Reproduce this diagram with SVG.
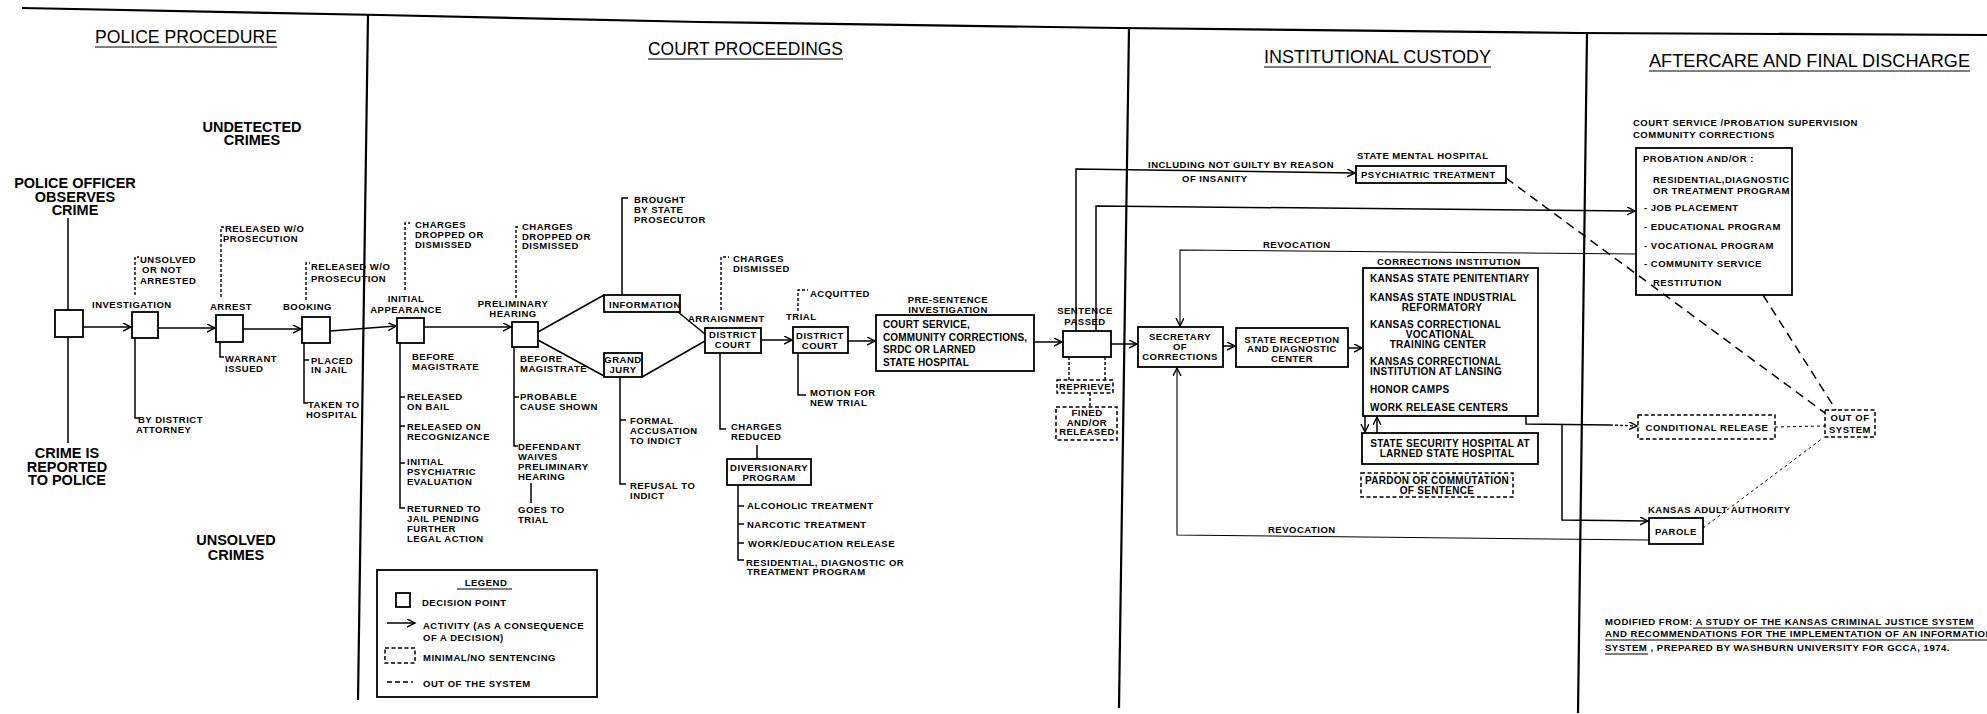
<svg xmlns="http://www.w3.org/2000/svg" width="1987" height="714" viewBox="0 0 1987 714">
<defs>
<marker id="ah" markerWidth="10" markerHeight="10" refX="8" refY="4" orient="auto" markerUnits="userSpaceOnUse"><path d="M0,0 L8,4 L0,8" fill="none" stroke="#000" stroke-width="1.4"/></marker>
<style>
text{font-family:"Liberation Sans",Arial,Helvetica,sans-serif;fill:#000}
.h{font-size:18.5px}
.m{font-size:14.5px;font-weight:bold}
.s{font-size:9.5px;font-weight:bold;letter-spacing:0.5px}
.p{font-size:10px;font-weight:bold;letter-spacing:0.15px}
.k{font-size:10px;font-weight:bold;letter-spacing:0.3px}
.c{text-anchor:middle}
.box{fill:none;stroke:#000;stroke-width:1.8}
.dbox{fill:none;stroke:#000;stroke-width:1.5;stroke-dasharray:4 2.5}
.ln{fill:none;stroke:#000;stroke-width:1.5}
.thin{fill:none;stroke:#000;stroke-width:1.1}
.dl{fill:none;stroke:#000;stroke-width:1.4;stroke-dasharray:3 2}
.out{fill:none;stroke:#000;stroke-width:1.5;stroke-dasharray:9 6}
.dot{fill:none;stroke:#000;stroke-width:1;stroke-dasharray:3 3}
.frame{fill:none;stroke:#000;stroke-width:2.2}
.ul{stroke:#000;stroke-width:1.2}
.arr{marker-end:url(#ah)}
</style>
</defs>
<rect width="1987" height="714" fill="#fff"/>

<g id="frame">
<polyline class="frame" points="22,8 380,15 700,22 1120,28 1580,33 1987,35"/>
<line class="frame" x1="368" y1="15" x2="358" y2="700"/>
<line class="frame" x1="1129" y1="28" x2="1119" y2="708"/>
<line class="frame" x1="1587" y1="33" x2="1578" y2="713"/>
</g>

<g id="headers">
<text class="h" x="95" y="43" textLength="182" lengthAdjust="spacingAndGlyphs">POLICE PROCEDURE</text>
<line class="ul" x1="95" y1="47" x2="277" y2="47"/>
<text class="h" x="648" y="55" textLength="195" lengthAdjust="spacingAndGlyphs">COURT PROCEEDINGS</text>
<line class="ul" x1="648" y1="59" x2="843" y2="59"/>
<text class="h" x="1264" y="63" textLength="227" lengthAdjust="spacingAndGlyphs">INSTITUTIONAL CUSTODY</text>
<line class="ul" x1="1264" y1="67" x2="1491" y2="67"/>
<text class="h" x="1649" y="67" textLength="321" lengthAdjust="spacingAndGlyphs">AFTERCARE AND FINAL DISCHARGE</text>
<line class="ul" x1="1649" y1="71" x2="1970" y2="71"/>
</g>

<g id="connectors">
<!-- main flow -->
<path class="ln" d="M68,218 V310 M68,337 V443"/>
<path class="ln arr" d="M83,327 H131"/>
<path class="ln arr" d="M158,328 H215"/>
<path class="ln arr" d="M243,329 H301"/>
<path class="ln arr" d="M330,331 L396,326"/>
<path class="ln arr" d="M424,327 H511"/>
<path class="ln" d="M538,332 L604,295 M678,312 L705,334"/>
<path class="ln" d="M538,340 L604,376 M642,377 L705,341"/>
<path class="ln arr" d="M761,340 H792"/>
<path class="ln arr" d="M848,341 H875"/>
<path class="ln arr" d="M1034,342 H1062"/>
<path class="ln arr" d="M1111,344 H1137"/>
<path class="ln arr" d="M1223,346 H1235"/>
<path class="ln arr" d="M1348,348 H1362"/>
<!-- from sentence -->
<path class="ln arr" d="M1076,331 V169 L1355,173"/>
<path class="ln arr" d="M1096,331 V206 L1635,211"/>
<!-- revocations -->
<path class="thin arr" d="M1637,254 L1180,250 V326"/>
<path class="thin arr" d="M1649,540 L1177,535 V368"/>
<!-- releases -->
<path class="ln" d="M1526,416 V424 L1610,425"/>
<path class="dl arr" d="M1610,425 L1637,426"/>
<path class="ln arr" d="M1562,425 V520 L1648,521"/>
<path class="ln arr" d="M1365,416 V432"/>
<path class="ln arr" d="M1377,433 V417"/>
<!-- out of system -->
<path class="out" d="M1506,178 L1825,413"/>
<path class="out" d="M1763,295 L1836,410"/>
<path class="dot" d="M1703,528 L1823,438"/>
<path class="dot" d="M1775,427 L1825,426"/>
<!-- minimal sentencing -->
<path class="dl" d="M1069,357 V380 M1105,357 V380 M1090,393 V407"/>
<!-- side branches police -->
<path class="dl" d="M135,295 V257 H139"/>
<path class="ln" d="M135,338 V418 H139"/>
<path class="dl" d="M221,297 V227 H225"/>
<path class="ln" d="M220,342 V357 H224"/>
<path class="dl" d="M306,300 V263 H310"/>
<path class="ln" d="M304,343 V403 H308 M304,360 H309"/>
<!-- side branches court -->
<path class="dl" d="M405,290 V223 H410"/>
<path class="ln" d="M400,343 V508 H405 M400,397 H405 M400,426 H405 M400,463 H405"/>
<path class="dl" d="M516,298 V227 H520"/>
<path class="ln" d="M514,347 V446 H518 M514,397 H519 M531,483 V503"/>
<path class="ln" d="M622,295 V198 H628"/>
<path class="ln" d="M620,377 V484 H626 M620,420 H626"/>
<path class="dl" d="M721,310 V257 H729"/>
<path class="ln" d="M720,353 V429 H726 M757,445 V459"/>
<path class="ln" d="M738,485 V560 H744 M738,506 H744 M738,524 H744 M738,543 H744"/>
<path class="dl" d="M798,311 V290 H808"/>
<path class="ln" d="M798,353 V395 H806"/>
</g>

<g id="police-texts">
<text class="m c" x="252" y="132">UNDETECTED</text>
<text class="m c" x="252" y="145">CRIMES</text>
<text class="m c" x="75" y="188">POLICE OFFICER</text>
<text class="m c" x="75" y="202">OBSERVES</text>
<text class="m c" x="75" y="215">CRIME</text>
<text class="m c" x="67" y="458">CRIME IS</text>
<text class="m c" x="67" y="472">REPORTED</text>
<text class="m c" x="67" y="485">TO POLICE</text>
<text class="m c" x="236" y="545">UNSOLVED</text>
<text class="m c" x="236" y="560">CRIMES</text>
</g>

<g id="n-start"><rect class="box" x="55" y="310" width="28" height="27"/></g>
<g id="n-investigation">
<rect class="box" x="132" y="312" width="26" height="26"/>
<text class="s" x="92" y="308">INVESTIGATION</text>
<text class="s" x="140" y="263">UNSOLVED</text>
<text class="s" x="142" y="273">OR NOT</text>
<text class="s" x="140" y="284">ARRESTED</text>
<text class="s" x="138" y="423">BY DISTRICT</text>
<text class="s" x="136" y="433">ATTORNEY</text>
</g>
<g id="n-arrest">
<rect class="box" x="216" y="315" width="27" height="27"/>
<text class="s" x="210" y="310">ARREST</text>
<text class="s" x="225" y="232">RELEASED W/O</text>
<text class="s" x="223" y="242">PROSECUTION</text>
<text class="s" x="225" y="362">WARRANT</text>
<text class="s" x="225" y="372">ISSUED</text>
</g>
<g id="n-booking">
<rect class="box" x="302" y="317" width="28" height="26"/>
<text class="s" x="283" y="310">BOOKING</text>
<text class="s" x="311" y="270">RELEASED W/O</text>
<text class="s" x="311" y="282">PROSECUTION</text>
<text class="s" x="311" y="364">PLACED</text>
<text class="s" x="311" y="373">IN JAIL</text>
<text class="s" x="308" y="408">TAKEN TO</text>
<text class="s" x="306" y="418">HOSPITAL</text>
</g>

<g id="n-initial">
<rect class="box" x="397" y="318" width="27" height="25"/>
<text class="s c" x="406" y="302">INITIAL</text>
<text class="s c" x="406" y="313">APPEARANCE</text>
<text class="s" x="415" y="228">CHARGES</text>
<text class="s" x="415" y="238">DROPPED OR</text>
<text class="s" x="415" y="248">DISMISSED</text>
<text class="s" x="412" y="360">BEFORE</text>
<text class="s" x="412" y="370">MAGISTRATE</text>
<text class="s" x="407" y="400">RELEASED</text>
<text class="s" x="407" y="410">ON BAIL</text>
<text class="s" x="407" y="430">RELEASED ON</text>
<text class="s" x="407" y="440">RECOGNIZANCE</text>
<text class="s" x="407" y="465">INITIAL</text>
<text class="s" x="407" y="475">PSYCHIATRIC</text>
<text class="s" x="407" y="485">EVALUATION</text>
<text class="s" x="407" y="512">RETURNED TO</text>
<text class="s" x="407" y="522">JAIL PENDING</text>
<text class="s" x="407" y="532">FURTHER</text>
<text class="s" x="407" y="542">LEGAL ACTION</text>
</g>
<g id="n-preliminary">
<rect class="box" x="512" y="322" width="26" height="25"/>
<text class="s c" x="513" y="307">PRELIMINARY</text>
<text class="s c" x="513" y="317">HEARING</text>
<text class="s" x="522" y="230">CHARGES</text>
<text class="s" x="522" y="240">DROPPED OR</text>
<text class="s" x="522" y="249">DISMISSED</text>
<text class="s" x="520" y="362">BEFORE</text>
<text class="s" x="520" y="372">MAGISTRATE</text>
<text class="s" x="520" y="400">PROBABLE</text>
<text class="s" x="520" y="410">CAUSE SHOWN</text>
<text class="s" x="518" y="450">DEFENDANT</text>
<text class="s" x="518" y="460">WAIVES</text>
<text class="s" x="518" y="470">PRELIMINARY</text>
<text class="s" x="518" y="480">HEARING</text>
<text class="s" x="518" y="513">GOES TO</text>
<text class="s" x="518" y="523">TRIAL</text>
</g>
<g id="n-information">
<rect class="box" x="604" y="295" width="76" height="17"/>
<text class="s" x="609" y="308">INFORMATION</text>
<text class="s" x="634" y="203">BROUGHT</text>
<text class="s" x="634" y="213">BY STATE</text>
<text class="s" x="634" y="223">PROSECUTOR</text>
</g>
<g id="n-grandjury">
<rect class="box" x="604" y="353" width="38" height="24"/>
<text class="s c" x="623" y="363">GRAND</text>
<text class="s c" x="623" y="373">JURY</text>
<text class="s" x="630" y="424">FORMAL</text>
<text class="s" x="630" y="434">ACCUSATION</text>
<text class="s" x="630" y="444">TO INDICT</text>
<text class="s" x="630" y="489">REFUSAL TO</text>
<text class="s" x="630" y="499">INDICT</text>
</g>
<g id="n-arraignment">
<rect class="box" x="705" y="328" width="56" height="25"/>
<text class="s" x="688" y="322">ARRAIGNMENT</text>
<text class="s c" x="733" y="338">DISTRICT</text>
<text class="s c" x="733" y="348">COURT</text>
<text class="s" x="733" y="262">CHARGES</text>
<text class="s" x="733" y="272">DISMISSED</text>
<text class="s" x="731" y="430">CHARGES</text>
<text class="s" x="731" y="440">REDUCED</text>
</g>
<g id="n-diversionary">
<rect class="box" x="727" y="459" width="84" height="26"/>
<text class="s c" x="769" y="471">DIVERSIONARY</text>
<text class="s c" x="769" y="481">PROGRAM</text>
<text class="s" x="747" y="509">ALCOHOLIC TREATMENT</text>
<text class="s" x="747" y="528">NARCOTIC TREATMENT</text>
<text class="s" x="748" y="547">WORK/EDUCATION RELEASE</text>
<text class="s" x="746" y="566">RESIDENTIAL, DIAGNOSTIC OR</text>
<text class="s" x="747" y="575">TREATMENT PROGRAM</text>
</g>
<g id="n-trial">
<rect class="box" x="793" y="327" width="55" height="26"/>
<text class="s" x="786" y="320">TRIAL</text>
<text class="s" x="810" y="297">ACQUITTED</text>
<text class="s c" x="820" y="339">DISTRICT</text>
<text class="s c" x="820" y="349">COURT</text>
<text class="s" x="810" y="396">MOTION FOR</text>
<text class="s" x="810" y="406">NEW TRIAL</text>
</g>
<g id="n-psi">
<rect class="box" x="876" y="315" width="158" height="56"/>
<text class="s c" x="948" y="303">PRE-SENTENCE</text>
<text class="s c" x="948" y="313">INVESTIGATION</text>
<text class="p" x="883" y="328">COURT SERVICE,</text>
<text class="p" x="883" y="341">COMMUNITY CORRECTIONS,</text>
<text class="p" x="883" y="353">SRDC OR LARNED</text>
<text class="p" x="883" y="366">STATE HOSPITAL</text>
</g>
<g id="n-sentence">
<rect class="box" x="1063" y="331" width="48" height="26"/>
<text class="s c" x="1085" y="314">SENTENCE</text>
<text class="s c" x="1085" y="325">PASSED</text>
</g>
<g id="n-reprieve">
<rect class="dbox" x="1057" y="380" width="56" height="13"/>
<text class="s c" x="1085" y="390">REPRIEVE</text>
</g>
<g id="n-fined">
<rect class="dbox" x="1056" y="407" width="61" height="33"/>
<text class="s c" x="1087" y="416">FINED</text>
<text class="s c" x="1087" y="426">AND/OR</text>
<text class="s c" x="1087" y="435">RELEASED</text>
</g>

<g id="n-psych">
<rect class="box" x="1356" y="166" width="150" height="17"/>
<text class="s" x="1357" y="159">STATE MENTAL HOSPITAL</text>
<text class="s" x="1361" y="178">PSYCHIATRIC TREATMENT</text>
<text class="s" x="1148" y="168">INCLUDING NOT GUILTY BY REASON</text>
<text class="s" x="1182" y="182">OF INSANITY</text>
</g>
<g id="revocation-labels">
<text class="s" x="1263" y="248">REVOCATION</text>
<text class="s" x="1268" y="533">REVOCATION</text>
</g>
<g id="n-secretary">
<rect class="box" x="1138" y="327" width="85" height="40"/>
<text class="s c" x="1180" y="340">SECRETARY</text>
<text class="s c" x="1180" y="350">OF</text>
<text class="s c" x="1180" y="360">CORRECTIONS</text>
</g>
<g id="n-reception">
<rect class="box" x="1236" y="328" width="112" height="39"/>
<text class="s c" x="1292" y="343">STATE RECEPTION</text>
<text class="s c" x="1292" y="352">AND DIAGNOSTIC</text>
<text class="s c" x="1292" y="362">CENTER</text>
</g>
<g id="n-corrections">
<rect class="box" x="1363" y="268" width="175" height="148"/>
<text class="s" x="1377" y="265">CORRECTIONS INSTITUTION</text>
<text class="k" x="1370" y="282">KANSAS STATE PENITENTIARY</text>
<text class="k" x="1370" y="301">KANSAS STATE INDUSTRIAL</text>
<text class="k c" x="1442" y="311">REFORMATORY</text>
<text class="k" x="1370" y="328">KANSAS CORRECTIONAL</text>
<text class="k c" x="1440" y="338">VOCATIONAL</text>
<text class="k c" x="1438" y="348">TRAINING CENTER</text>
<text class="k" x="1370" y="365">KANSAS CORRECTIONAL</text>
<text class="k" x="1370" y="375">INSTITUTION AT LANSING</text>
<text class="k" x="1370" y="393">HONOR CAMPS</text>
<text class="k" x="1370" y="411">WORK RELEASE CENTERS</text>
</g>
<g id="n-security">
<rect class="box" x="1362" y="433" width="176" height="31"/>
<text class="k c" x="1450" y="447">STATE SECURITY HOSPITAL AT</text>
<text class="k c" x="1447" y="457">LARNED STATE HOSPITAL</text>
</g>
<g id="n-pardon">
<rect class="dbox" x="1361" y="473" width="152" height="24"/>
<text class="k c" x="1437" y="484">PARDON OR COMMUTATION</text>
<text class="k c" x="1437" y="494">OF SENTENCE</text>
</g>

<g id="n-aftercare">
<text class="s" x="1633" y="126">COURT SERVICE /PROBATION SUPERVISION</text>
<text class="s" x="1633" y="138">COMMUNITY CORRECTIONS</text>
<rect class="box" x="1636" y="148" width="156" height="147"/>
<text class="s" x="1643" y="162">PROBATION AND/OR :</text>
<text class="s" x="1653" y="183">RESIDENTIAL,DIAGNOSTIC</text>
<text class="s" x="1653" y="194">OR TREATMENT PROGRAM</text>
<text class="s" x="1644" y="211">- JOB PLACEMENT</text>
<text class="s" x="1644" y="230">- EDUCATIONAL PROGRAM</text>
<text class="s" x="1644" y="249">- VOCATIONAL PROGRAM</text>
<text class="s" x="1644" y="267">- COMMUNITY SERVICE</text>
<text class="s" x="1653" y="286">RESTITUTION</text>
</g>
<g id="n-conditional">
<rect class="dbox" x="1638" y="415" width="137" height="24"/>
<text class="s c" x="1707" y="431">CONDITIONAL RELEASE</text>
</g>
<g id="n-parole">
<text class="s" x="1648" y="513">KANSAS ADULT AUTHORITY</text>
<rect class="box" x="1649" y="518" width="54" height="26"/>
<text class="s c" x="1676" y="535">PAROLE</text>
</g>
<g id="n-out">
<rect class="dbox" x="1825" y="410" width="50" height="27"/>
<text class="s c" x="1850" y="421">OUT OF</text>
<text class="s c" x="1850" y="433">SYSTEM</text>
</g>

<g id="citation">
<text class="s" x="1605" y="625" textLength="369" lengthAdjust="spacingAndGlyphs">MODIFIED FROM: A STUDY OF THE KANSAS CRIMINAL JUSTICE SYSTEM</text>
<line class="ul" x1="1693" y1="628" x2="1974" y2="628"/>
<text class="s" x="1605" y="637" textLength="388" lengthAdjust="spacingAndGlyphs">AND RECOMMENDATIONS FOR THE IMPLEMENTATION OF AN INFORMATION</text>
<line class="ul" x1="1605" y1="640" x2="1987" y2="640"/>
<text class="s" x="1605" y="651" textLength="345" lengthAdjust="spacingAndGlyphs">SYSTEM , PREPARED BY WASHBURN UNIVERSITY FOR GCCA, 1974.</text>
<line class="ul" x1="1605" y1="654" x2="1648" y2="654"/>
</g>

<g id="legend">
<rect class="box" x="377" y="570" width="220" height="127"/>
<text class="s c" x="486" y="586">LEGEND</text>
<line class="ul" x1="457" y1="589" x2="512" y2="589"/>
<rect class="box" x="396" y="593" width="14" height="14"/>
<text class="s" x="422" y="606">DECISION POINT</text>
<path class="ln arr" d="M387,623 H415"/>
<text class="s" x="423" y="629">ACTIVITY (AS A CONSEQUENCE</text>
<text class="s" x="423" y="641">OF  A DECISION)</text>
<rect class="dbox" x="385" y="648" width="30" height="15"/>
<text class="s" x="423" y="661">MINIMAL/NO SENTENCING</text>
<path class="out" d="M387,682 H413" style="stroke-dasharray:5 3"/>
<text class="s" x="423" y="687">OUT OF THE SYSTEM</text>
</g>
</svg>
